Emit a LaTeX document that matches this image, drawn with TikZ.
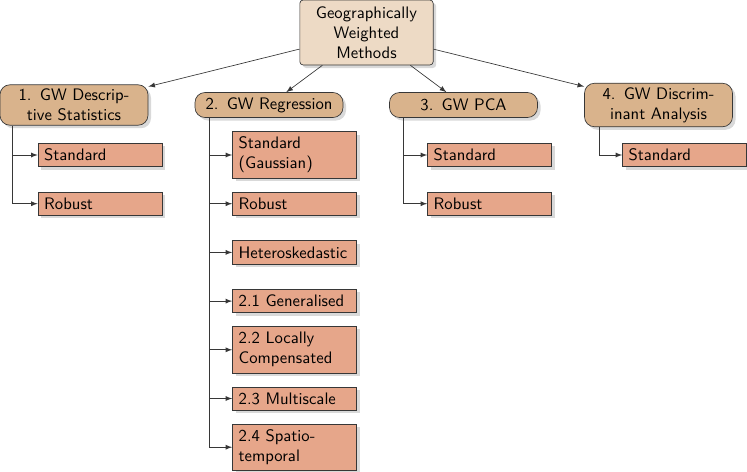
\documentclass[tikz,border=0pt]{standalone}
\usepackage{tikz}
\usetikzlibrary{shadows}
\definecolor{rootfill}{RGB}{237,218,197}
\definecolor{catfill}{RGB}{217,179,140}
\definecolor{leaffill}{RGB}{230,166,138}
\definecolor{edgecol}{RGB}{55,55,55}

\begin{document}
\begin{tikzpicture}[x=0.6pt,y=-0.6pt,font=\sffamily,
  shadowed/.style={drop shadow={opacity=0.3,shadow xshift=1.8pt,shadow yshift=-1.8pt}},
  rootbox/.style={draw=edgecol,fill=rootfill,shadowed,rounded corners=2pt,align=center,
    text width=72pt,inner xsep=4pt,minimum height=39pt},
  catbox/.style={draw=edgecol,fill=catfill,shadowed,rounded corners=6pt,align=center,
    text width=80pt,inner xsep=4.4pt,inner ysep=2.5pt,minimum height=15pt},
  leafbox/.style={draw=edgecol,fill=leaffill,shadowed,align=left,
    text width=67pt,inner xsep=3.7pt,inner ysep=2pt,minimum height=14pt},
  tallbox/.style={leafbox,minimum height=28pt},
  link/.style={-latex,draw=edgecol}]
  \useasboundingbox (0,0) rectangle (747,471);
  % root
  \node[rootbox] (gwm) at (366.5,32.5) {Geographically\\Weighted\\Methods};
  % method families
  \node[catbox] (c1) at (74,105)    {1. GW Descrip-\\tive Statistics};
  \node[catbox] (c2) at (269,105)   {2. GW Regression};
  \node[catbox] (c3) at (463.5,105) {3. GW PCA};
  \node[catbox] (c4) at (658.5,105) {4. GW Discrim-\\inant Analysis};
  \foreach \c in {c1,c2,c3,c4}{\draw[link] (gwm) -- (\c);}
  % 1. descriptive statistics
  \node[leafbox] (c1a) at (100,155)   {Standard};
  \node[leafbox] (c1b) at (100,203.7) {Robust};
  % 2. regression
  \node[tallbox] (c2a) at (294.5,155)   {Standard\\(Gaussian)};
  \node[leafbox] (c2b) at (294.5,203.7) {Robust};
  \node[leafbox] (c2c) at (294.5,252.4) {Heteroskedastic};
  \node[leafbox] (c2d) at (294.5,301.1) {2.1 Generalised};
  \node[tallbox] (c2e) at (294.5,349.8) {2.2 Locally\\Compensated};
  \node[leafbox] (c2f) at (294.5,398.5) {2.3 Multiscale};
  \node[tallbox] (c2g) at (294.5,447.2) {2.4 Spatio-\\temporal};
  % 3. PCA
  \node[leafbox] (c3a) at (489.5,155)   {Standard};
  \node[leafbox] (c3b) at (489.5,203.7) {Robust};
  % 4. discriminant analysis
  \node[leafbox] (c4a) at (684.5,155) {Standard};
  % tree links
  \foreach \l in {a,b}{\draw[link] ([xshift=7.8pt]c1.south west) |- (c1\l.west);}
  \foreach \l in {a,b,c,d,e,f,g}{\draw[link] ([xshift=8.7pt]c2.south west) |- (c2\l.west);}
  \foreach \l in {a,b}{\draw[link] ([xshift=8.4pt]c3.south west) |- (c3\l.west);}
  \draw[link] ([xshift=9pt]c4.south west) |- (c4a.west);
\end{tikzpicture}
\end{document}
